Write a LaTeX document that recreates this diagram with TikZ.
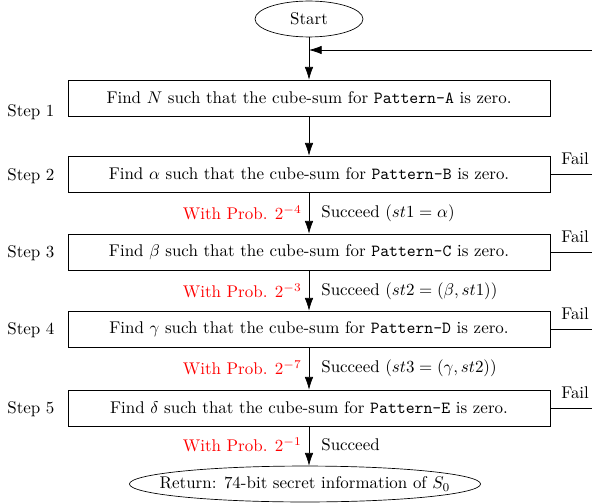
\documentclass[tikz,border=0pt]{standalone}
\usetikzlibrary{arrows.meta,shapes.geometric}
\begin{document}
\begin{tikzpicture}[x=0.59pt,y=-0.59pt,
  box/.style={draw, rectangle, minimum width=284.4pt, minimum height=21.2pt, inner sep=0pt},
  oval/.style={draw, ellipse, minimum height=21.2pt, inner sep=0pt},
  arr/.style={-{Latex[length=7.5pt,width=5pt]}},
  lbl/.style={inner sep=0pt},
  red lbl/.style={inner sep=0pt, text=red, anchor=east},
  ok lbl/.style={inner sep=0pt, anchor=west}]
\useasboundingbox (0,0) rectangle (592,502);
\node[oval, minimum width=63.7pt] (start) at (309,19) {Start};
\node[box] (b1) at (309,98) {Find $N$ such that the cube-sum for \texttt{Pattern-A} is zero.};
\node[box] (b2) at (309,174) {Find $\alpha$ such that the cube-sum for \texttt{Pattern-B} is zero.};
\node[box] (b3) at (309,252) {Find $\beta$ such that the cube-sum for \texttt{Pattern-C} is zero.};
\node[box] (b4) at (309,329) {Find $\gamma$ such that the cube-sum for \texttt{Pattern-D} is zero.};
\node[box] (b5) at (309,408) {Find $\delta$ such that the cube-sum for \texttt{Pattern-E} is zero.};
\node[oval, minimum width=206.5pt, inner xsep=-12.5pt] (ret) at (305,484) {Return: 74-bit secret information of $S_0$};

\node[lbl, anchor=west] (s1) at (7,112) {Step 1};
\node[lbl, anchor=west] (s2) at (7,176) {Step 2};
\node[lbl, anchor=west] (s3) at (7,253) {Step 3};
\node[lbl, anchor=west] (s4) at (7,330) {Step 4};
\node[lbl, anchor=west] (s5) at (7,409) {Step 5};

\coordinate (fb) at (592,50);
\coordinate (mid) at (start.south |- fb);
\draw (start) -- (mid);
\draw[arr] (mid) -- (b1);
\draw[arr] (fb) -- (mid);
\draw[arr] (b1) -- (b2);
\draw[arr] (b2) -- (b3);
\draw[arr] (b3) -- (b4);
\draw[arr] (b4) -- (b5);
\draw[arr] (b5) -- (b5.south |- ret.north);

\node[red lbl] (p2) at (302,213) {With Prob. $2^{-4}$};
\node[ok lbl] (k2) at (321,213) {Succeed $(st1=\alpha)$};
\node[red lbl] (p3) at (302,291) {With Prob. $2^{-3}$};
\node[ok lbl] (k3) at (321,291) {Succeed $(st2=(\beta,st1))$};
\node[red lbl] (p4) at (302,368) {With Prob. $2^{-7}$};
\node[ok lbl] (k4) at (321,368) {Succeed $(st3=(\gamma,st2))$};
\node[red lbl] (p5) at (302,445) {With Prob. $2^{-1}$};
\node[ok lbl] (k5) at (321,445) {Succeed};

\foreach \b/\y in {b2/174,b3/252,b4/329,b5/408}{
  \coordinate (e\b) at (592,\y);
  \draw (\b.east |- e\b) -- (e\b);
  \node[lbl, anchor=west] (f\b) at (561,\y-15) {Fail};
}
\end{tikzpicture}
\end{document}
